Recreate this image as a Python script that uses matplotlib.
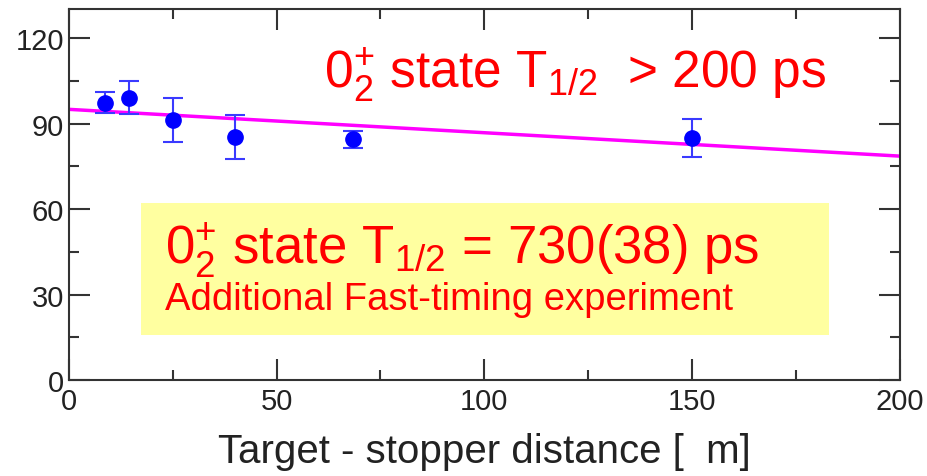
import matplotlib
matplotlib.use("Agg")
import matplotlib.pyplot as plt
from matplotlib.patches import Rectangle
from matplotlib.ticker import MultipleLocator

# measured points
distance = [8.7, 14.5, 25, 40, 68.5, 150]
ratio = [97.4, 99.1, 91.2, 85.3, 84.5, 85.0]
ratio_err = [3.7, 5.8, 7.7, 7.7, 3.0, 6.6]

# linear fit
fit_x = [0, 200]
fit_y = [95.0, 78.6]

# highlighted box (data coords)
box_x = [17.3, 182.9]
box_y = [15.8, 62.1]

plt.rcParams["font.family"] = ["Liberation Sans", "DejaVu Sans"]
plt.rcParams["mathtext.fontset"] = "custom"
plt.rcParams["mathtext.rm"] = "Liberation Sans"
plt.rcParams["mathtext.it"] = "Liberation Sans"
plt.rcParams["mathtext.default"] = "rm"

fig = plt.figure(figsize=(9.27, 4.77), dpi=100)
ax = fig.add_axes([0.0744, 0.201, 0.896, 0.778])

ax.add_patch(Rectangle((box_x[0], box_y[0]), box_x[1] - box_x[0], box_y[1] - box_y[0],
                       facecolor="#ffffa0", edgecolor="none", zorder=0))

ax.plot(fit_x, fit_y, color="#ff00ff", lw=2.5, zorder=2)
ax.errorbar(distance, ratio, yerr=ratio_err, fmt="o", color="#0000ff", ms=11,
            ecolor="#3a3aff", elinewidth=1.5, capsize=7, capthick=1.5, zorder=3)

# annotations
ax.text(61.5, 107.5, r"0$^{+}_{2}$ state T$_{1/2}$  > 200 ps", color="#ff0000",
        fontsize=37, va="center")
ax.text(box_x[0] + 5.8, 46, r"0$^{+}_{2}$ state T$_{1/2}$ = 730(38) ps", color="#ff0000",
        fontsize=38, va="center")
ax.text(box_x[0] + 5.8, 28.5, "Additional Fast-timing experiment", color="#ff0000",
        fontsize=27.5, va="center")

ax.set_xlim(0, 200)
ax.set_ylim(0, 130.2)
ax.xaxis.set_major_locator(MultipleLocator(50))
ax.xaxis.set_minor_locator(MultipleLocator(25))
ax.yaxis.set_major_locator(MultipleLocator(30))
ax.yaxis.set_minor_locator(MultipleLocator(15))
ax.tick_params(which="both", direction="in", top=True, right=True,
               color="#333333", width=1.5, labelsize=21, labelcolor="#222222")
ax.tick_params(which="major", length=15)
ax.tick_params(which="minor", length=7)
ax.tick_params(axis="x", pad=5)
for s in ax.spines.values():
    s.set_color("#333333")
    s.set_linewidth(1.5)

ax.set_xlabel("Target - stopper distance [  m]", fontsize=29, color="#222222", labelpad=12)

fig.savefig("out.png", dpi=100)
